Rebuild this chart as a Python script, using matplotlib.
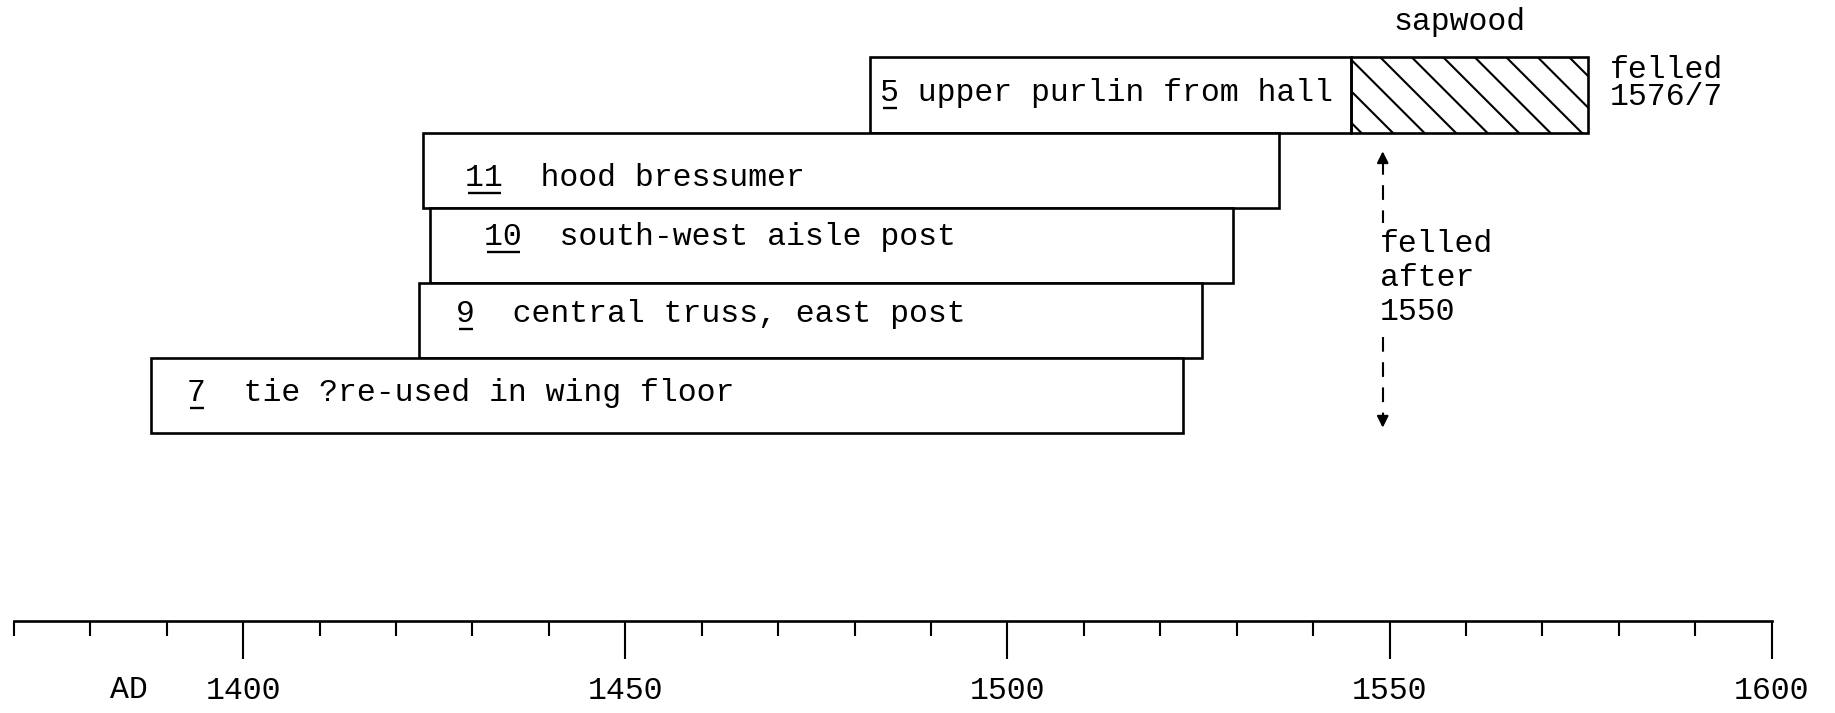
import matplotlib
matplotlib.use('Agg')
import matplotlib.pyplot as plt
from matplotlib.ticker import FixedLocator, MultipleLocator

plt.rcParams['font.family'] = ['Liberation Mono', 'DejaVu Sans Mono']
plt.rcParams['hatch.linewidth'] = 0.8

# amostras datadas (de cima para baixo)
numbers = ['5', '11', '10', '9', '7']
names = ['upper purlin from hall', 'hood bressumer', 'south-west aisle post',
         'central truss, east post', 'tie ?re-used in wing floor']
start = [1482, 1423.5, 1424.5, 1423, 1388]
heart_end = [1545, 1535.5, 1529.5, 1525.5, 1523]
sap_end = 1576            # so a amostra 5 tem alburno
felled_after = 1550
major_years = [1400, 1450, 1500, 1550, 1600]
axis_from, axis_to = 1370, 1600

# estilo (posicoes dos rotulos dentro das barras)
sep = [' ', '  ', '  ', '  ', '  ']
label_pad = [1.3, 5.6, 7.0, 4.9, 4.7]
label_dy = [0.08, 0.21, 0.0, 0.02, 0.07]
FS = 12
DPI = 189

fig = plt.figure(figsize=(1836 / DPI, 713 / DPI), dpi=DPI)
ax = fig.add_axes([0, 0, 1, 1])
ax.set_xlim(1368.2, 1608.4)
ax.set_ylim(8.23, -1.265)

rows = list(range(len(numbers)))
ax.barh(rows, [e - s for s, e in zip(start, heart_end)], left=start, height=1,
        color='white', edgecolor='black', linewidth=1.0)
ax.barh(0, sap_end - heart_end[0], left=heart_end[0], height=1, fill=False,
        hatch='\\\\', edgecolor='black', linewidth=1.0)

# rotulos com numero sublinhado
px_per_year = ax.transData.transform((1, 0))[0] - ax.transData.transform((0, 0))[0]
px_per_row = ax.transData.transform((0, 1))[1] - ax.transData.transform((0, 0))[1]
char_years = 0.6 * FS * DPI / 72 / px_per_year
for i, (n, nm) in enumerate(zip(numbers, names)):
    x0 = start[i] + label_pad[i]
    yb = i + label_dy[i]
    ax.text(x0, yb, n + sep[i] + nm, fontsize=FS, ha='left', va='baseline')
    yu = yb + 7 / abs(px_per_row)
    ax.plot([x0 + 0.15 * char_years, x0 + len(n) * char_years - 0.1 * char_years],
            [yu, yu], color='black', lw=0.9, solid_capstyle='butt')

ax.text(1559.2, -0.97, 'sapwood', fontsize=FS, ha='center', va='center')
ax.text(sap_end + 2.8, -0.15, 'felled\n1576/7', fontsize=FS, ha='left',
        va='center', linespacing=0.88)

# seta tracejada "felled after 1550"
xa = felled_after - 0.9
dash = (0, (7, 5))
ax.plot([xa, xa], [0.86, 1.7], color='black', lw=0.8, ls=dash)
ax.plot([xa, xa], [3.22, 4.32], color='black', lw=0.8, ls=dash)
ax.annotate('', xy=(xa, 0.68), xytext=(xa, 0.9),
            arrowprops=dict(arrowstyle='-|>', color='black', lw=0.8, mutation_scale=9))
ax.annotate('', xy=(xa, 4.5), xytext=(xa, 4.28),
            arrowprops=dict(arrowstyle='-|>', color='black', lw=0.8, mutation_scale=9))
ax.text(xa - 0.4, 2.44, 'felled\nafter\n%d' % felled_after, fontsize=FS,
        ha='left', va='center', linespacing=1.17)

# escala de anos
for s in ['top', 'left', 'right']:
    ax.spines[s].set_visible(False)
ax.spines['bottom'].set_position(('data', 7.0))
ax.spines['bottom'].set_bounds(axis_from, axis_to)
ax.spines['bottom'].set_linewidth(1.0)
ax.xaxis.set_major_locator(FixedLocator(major_years))
ax.xaxis.set_minor_locator(MultipleLocator(10))
ax.tick_params(axis='x', which='major', direction='out', length=14.5, width=0.8,
               pad=6.5, labelsize=FS)
ax.tick_params(axis='x', which='minor', direction='out', length=5.7, width=0.8)
ax.set_yticks([])
ax.text(1385, 7.92, 'AD', fontsize=FS, ha='center', va='center')

fig.savefig('out.png', dpi=DPI)
